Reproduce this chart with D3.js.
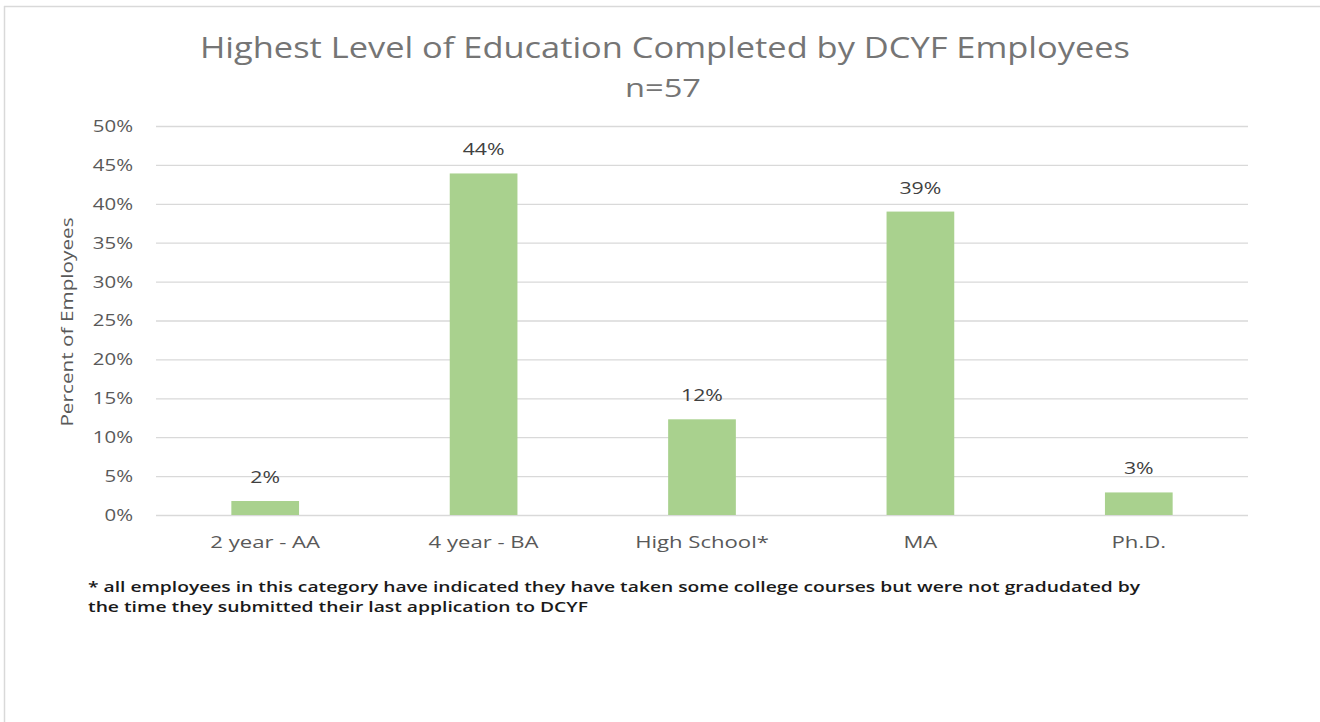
<!DOCTYPE html>
<html><head><meta charset="utf-8">
<script src="https://cdn.jsdelivr.net/npm/d3@7"></script>
<style>
html,body{margin:0;padding:0;background:#fff;}
svg{display:block;}
text{font-family:"Open Sans",sans-serif;}
</style></head>
<body>
<svg id="chart" width="1320" height="722"></svg>
<script>
const categories = ["2 year - AA", "4 year - BA", "High School*", "MA", "Ph.D."];
const values = [1.8, 43.9, 12.3, 39.0, 2.9];
const yTicks = [0, 5, 10, 15, 20, 25, 30, 35, 40, 45, 50];
const titleLines = ["Highest Level of Education Completed by DCYF Employees", "n=57"];
const yAxisTitle = "Percent of Employees";
const footnoteLines = [
  "* all employees in this category have indicated they have taken some college courses but were not gradudated by",
  "the time they submitted their last application to DCYF"
];

const svg = d3.select("#chart");
const W = 1320, H = 722;
const plot = {left: 156, right: 1248, top: 126, bottom: 515};

// widen text horizontally to mimic the reference rendering
function stretch(sel, k) {
  sel.each(function() {
    const len = this.getComputedTextLength();
    d3.select(this).attr("textLength", len * k).attr("lengthAdjust", "spacingAndGlyphs");
  });
}

// outer frame
svg.append("line").attr("x1", 4).attr("x2", W).attr("y1", 6.5).attr("y2", 6.5)
  .attr("stroke", "#d9d9d9").attr("stroke-width", 1.5);
svg.append("line").attr("x1", 4.5).attr("x2", 4.5).attr("y1", 6).attr("y2", H)
  .attr("stroke", "#d9d9d9").attr("stroke-width", 1.5);

const x = d3.scaleBand().domain(categories).range([plot.left, plot.right])
  .paddingInner(0.69).paddingOuter(0.345);
const y = d3.scaleLinear().domain([0, 50]).range([plot.bottom, plot.top]);

// gridlines + tick labels
const yAxis = d3.axisLeft(y).tickValues(yTicks).tickFormat(d => d + "%")
  .tickSize(-(plot.right - plot.left)).tickPadding(23);
const gy = svg.append("g").attr("transform", `translate(${plot.left},0)`).call(yAxis);
gy.select(".domain").remove();
gy.selectAll(".tick line").attr("stroke", "#d9d9d9").attr("stroke-width", 1.3);
gy.selectAll(".tick text").attr("fill", "#595959").style("font-size", "17px")
  .style("font-family", "'Open Sans',sans-serif");
stretch(gy.selectAll(".tick text"), 1.2);

// bars
svg.append("g").selectAll("rect").data(values).join("rect")
  .attr("x", (d, i) => x(categories[i]))
  .attr("width", x.bandwidth())
  .attr("y", d => y(d))
  .attr("height", d => y(0) - y(d))
  .attr("fill", "#a9d18e");

// value labels
const vl = svg.append("g").selectAll("text").data(values).join("text")
  .attr("x", (d, i) => x(categories[i]) + x.bandwidth() / 2)
  .attr("y", d => y(d) - 18)
  .attr("text-anchor", "middle")
  .attr("fill", "#404040")
  .style("font-size", "17px")
  .text(d => Math.round(d) + "%");
stretch(vl, 1.25);

// x axis labels
const xAxis = d3.axisBottom(x).tickSize(0).tickPadding(21);
const gx = svg.append("g").attr("transform", `translate(0,${plot.bottom})`).call(xAxis);
gx.select(".domain").remove();
gx.selectAll(".tick text").attr("fill", "#595959").style("font-size", "17px")
  .style("font-family", "'Open Sans',sans-serif");
stretch(gx.selectAll(".tick text"), 1.3);

// titles
const t1 = svg.append("text").attr("x", 665).attr("y", 58).attr("text-anchor", "middle")
  .attr("fill", "#757575").style("font-size", "29px").text(titleLines[0]);
t1.attr("textLength", 930).attr("lengthAdjust", "spacingAndGlyphs");
const t2 = svg.append("text").attr("x", 663).attr("y", 97).attr("text-anchor", "middle")
  .attr("fill", "#757575").style("font-size", "26px").text(titleLines[1]);
t2.attr("textLength", 76).attr("lengthAdjust", "spacingAndGlyphs");

// y axis title
const yt = svg.append("text").attr("transform", "translate(73,322) rotate(-90)")
  .attr("text-anchor", "middle").attr("fill", "#595959").style("font-size", "17px")
  .text(yAxisTitle);
stretch(yt, 1.22);

// footnote
const fnLens = [1052, 500];
footnoteLines.forEach((t, i) => {
  svg.append("text").attr("x", 88).attr("y", 592 + i * 20)
    .attr("fill", "#1a1a1a").style("font-size", "14px").style("font-weight", "600")
    .attr("textLength", fnLens[i]).attr("lengthAdjust", "spacingAndGlyphs")
    .text(t);
});
</script>
</body></html>
